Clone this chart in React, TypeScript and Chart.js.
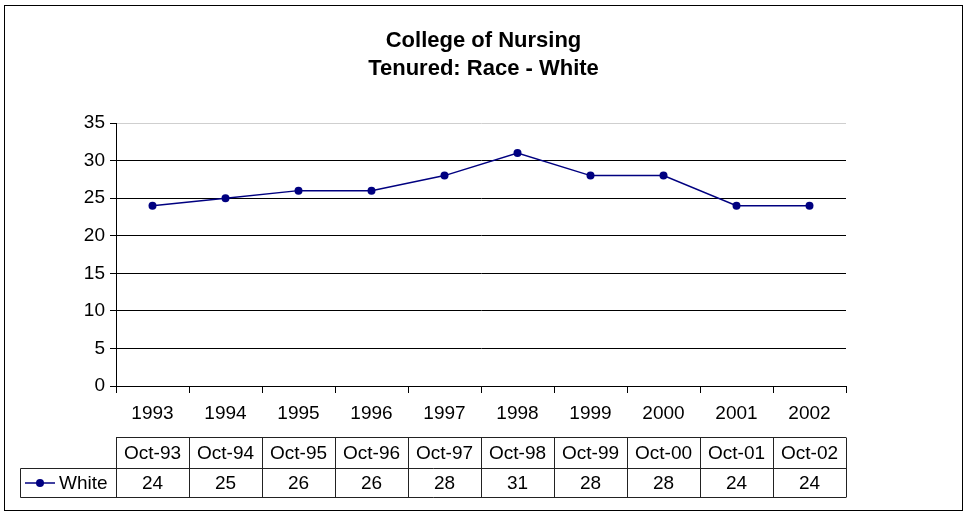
import React, { useEffect, useRef } from "react";
import { Chart, registerables } from "chart.js";

Chart.register(...registerables);

const categories = ["1993", "1994", "1995", "1996", "1997", "1998", "1999", "2000", "2001", "2002"];
const tableHeaders = ["Oct-93", "Oct-94", "Oct-95", "Oct-96", "Oct-97", "Oct-98", "Oct-99", "Oct-00", "Oct-01", "Oct-02"];
const whiteValues = [24, 25, 26, 26, 28, 31, 28, 28, 24, 24];
const seriesName = "White";
const titleLines = ["College of Nursing", "Tenured: Race - White"];
const yMin = 0;
const yMax = 35;
const yStep = 5;

const FONT = "Arial, 'Liberation Sans', sans-serif";
const LINE_COLOR = "#000080";

const decorPlugin = {
  id: "decor",
  afterDraw(chart: any) {
    const ctx = chart.ctx as CanvasRenderingContext2D;
    const x = chart.scales.x;
    ctx.save();
    // outer border
    ctx.strokeStyle = "#000";
    ctx.lineWidth = 1;
    ctx.strokeRect(4.5, 5.5, 958, 505);
    ctx.beginPath();
    ctx.moveTo(4.5, 5);
    ctx.lineTo(4.5, 511);
    ctx.stroke();

    // title
    ctx.fillStyle = "#000";
    ctx.font = `bold 22px ${FONT}`;
    ctx.textAlign = "center";
    ctx.textBaseline = "alphabetic";
    const cx = chart.width / 2;
    ctx.fillText(titleLines[0], cx, 47);
    ctx.fillText(titleLines[1], cx, 75);

    // data table
    const half = (x.getPixelForValue(1) - x.getPixelForValue(0)) / 2;
    const top = 437.5;
    const mid = 468.5;
    const bot = 497.5;
    const left = x.getPixelForValue(0) - half;
    const right = x.getPixelForValue(categories.length - 1) + half;
    ctx.strokeStyle = "#222";
    ctx.lineWidth = 1;
    ctx.beginPath();
    ctx.moveTo(left, top);
    ctx.lineTo(right, top);
    ctx.moveTo(20.5, mid);
    ctx.lineTo(right, mid);
    ctx.moveTo(20.5, bot);
    ctx.lineTo(right, bot);
    ctx.moveTo(20.5, mid);
    ctx.lineTo(20.5, bot);
    for (let i = 0; i <= categories.length; i++) {
      const px = Math.round(x.getPixelForValue(0) - half + i * half * 2) + 0.5;
      ctx.moveTo(px, top);
      ctx.lineTo(px, bot);
    }
    ctx.stroke();

    ctx.font = `19px ${FONT}`;
    ctx.textAlign = "center";
    ctx.textBaseline = "middle";
    ctx.fillStyle = "#000";
    for (let i = 0; i < categories.length; i++) {
      const px = x.getPixelForValue(i);
      ctx.fillText(tableHeaders[i], px, (top + mid) / 2 + 1);
      ctx.fillText(String(whiteValues[i]), px, (mid + bot) / 2 + 1);
    }

    // legend key
    const ky = (mid + bot) / 2;
    ctx.strokeStyle = LINE_COLOR;
    ctx.lineWidth = 1.5;
    ctx.beginPath();
    ctx.moveTo(25, ky);
    ctx.lineTo(55, ky);
    ctx.stroke();
    ctx.fillStyle = LINE_COLOR;
    ctx.beginPath();
    ctx.arc(40, ky, 4, 0, Math.PI * 2);
    ctx.fill();
    ctx.fillStyle = "#000";
    ctx.textAlign = "left";
    ctx.fillText(seriesName, 59, ky + 1);
    ctx.restore();
  },
};

export default function App() {
  const ref = useRef<HTMLCanvasElement>(null);
  useEffect(() => {
    document.body.style.margin = "0";
    const canvas = ref.current!;
    const chart = new Chart(canvas, {
      type: "line",
      data: {
        labels: categories,
        datasets: [
          {
            label: seriesName,
            data: whiteValues,
            borderColor: LINE_COLOR,
            backgroundColor: LINE_COLOR,
            borderWidth: 1.5,
            pointRadius: 4,
            pointBackgroundColor: LINE_COLOR,
            pointBorderWidth: 0,
            tension: 0,
          },
        ],
      },
      options: {
        animation: false,
        responsive: false,
        devicePixelRatio: 1,
        layout: { padding: { top: 123, left: 0, right: 121, bottom: 0 } },
        plugins: {
          legend: { display: false },
          tooltip: { enabled: false },
          title: { display: false },
        },
        scales: {
          x: {
            type: "category",
            offset: true,
            afterFit(scale: any) {
              scale.height = 129;
            },
            grid: {
              offset: true,
              drawOnChartArea: false,
              drawTicks: true,
              tickLength: 7,
              color: "#000",
              tickColor: "#000",
            },
            border: { color: "#000", width: 1 },
            ticks: {
              color: "#000",
              font: { family: FONT, size: 19 },
              padding: 9,
              maxRotation: 0,
            },
          },
          y: {
            min: yMin,
            max: yMax,
            afterFit(scale: any) {
              scale.width = 116;
            },
            grid: {
              color: (c: any) => (c.tick && c.tick.value === yMax ? "#cfcfcf" : "#000"),
              tickColor: "#000",
              tickLength: 6,
              lineWidth: 1,
            },
            border: { color: "#000", width: 1 },
            ticks: {
              stepSize: yStep,
              color: "#000",
              font: { family: FONT, size: 19 },
              padding: 5,
            },
          },
        },
      },
      plugins: [decorPlugin],
    });
    return () => chart.destroy();
  }, []);
  return (
    <div style={{ width: 967, height: 515, background: "#fff" }}>
      <canvas ref={ref} width={967} height={515} style={{ display: "block" }} />
    </div>
  );
}
